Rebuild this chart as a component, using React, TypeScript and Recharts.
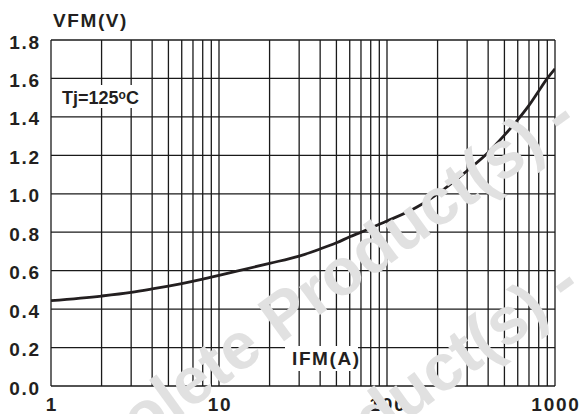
import React from "react";
import { LineChart, Line, XAxis, YAxis, ReferenceLine } from "recharts";

// Forward characteristic, Tj = 125 °C
const currentA = [1, 2, 3, 4, 5, 6, 8, 10, 20, 30, 40, 50, 60, 70, 80, 100, 150, 200, 300, 400, 500, 600, 700, 800, 900, 1000];
const voltageV = [0.444, 0.468, 0.487, 0.505, 0.52, 0.533, 0.556, 0.576, 0.638, 0.676, 0.713, 0.745, 0.776, 0.8, 0.822, 0.858, 0.93, 1.0, 1.12, 1.215, 1.305, 1.385, 1.46, 1.535, 1.6, 1.65];

const xTicks = [1, 10, 100, 1000];
const yTicks = [0, 0.2, 0.4, 0.6, 0.8, 1.0, 1.2, 1.4, 1.6, 1.8];
const decades = [1, 10, 100];
const multipliers = [1, 2, 3, 4, 5, 6, 7, 8, 9];

const xGrid = [...decades.flatMap((d) => multipliers.map((m) => d * m)), 1000];

const data = currentA.map((i, k) => ({ i, v: voltageV[k] }));

const W = 582;
const H = 414;
const FONT = "'Liberation Sans', Arial, Helvetica, sans-serif";
const INK = "#231f20";
const GRID = "#1a1a1a";

const YTick = ({ x, y, payload }: any) => (
  <text x={x + 1} y={y + 8.5} textAnchor="end" fontFamily={FONT} fontWeight="bold" fontSize={19} letterSpacing={1.8} fill={INK}>
    {Number(payload.value).toFixed(1)}
  </text>
);

const XTick = ({ x, y, payload }: any) => (
  <text x={x + 1} y={y + 25} textAnchor="middle" fontFamily={FONT} fontWeight="bold" fontSize={19} letterSpacing={1.8} fill={INK}>
    {payload.value}
  </text>
);

export default function App() {
  return (
    <div style={{ position: "absolute", left: 0, top: 0, width: W, height: H, background: "#fff", overflow: "hidden" }}>
      <LineChart width={W} height={H} data={data} margin={{ top: 40, right: 27, bottom: 0, left: 10 }}>
        <XAxis
          dataKey="i"
          type="number"
          scale="log"
          domain={[1, 1000]}
          ticks={xTicks}
          allowDataOverflow
          axisLine={false}
          tickLine={false}
          tickSize={0}
          tickMargin={0}
          height={28}
          tick={<XTick />}
          interval={0}
        />
        <YAxis
          type="number"
          domain={[0, 1.8]}
          ticks={yTicks}
          axisLine={false}
          tickLine={false}
          tickSize={0}
          tickMargin={11}
          width={41}
          tick={<YTick />}
          interval={0}
        />
        {xGrid.map((g) => (
          <ReferenceLine key={`x${g}`} x={g} stroke={GRID} strokeWidth={1.3} />
        ))}
        {yTicks.map((g) => (
          <ReferenceLine key={`y${g}`} y={g} stroke={GRID} strokeWidth={1.3} />
        ))}
        <Line
          dataKey="v"
          type="monotone"
          stroke={INK}
          strokeWidth={2.8}
          dot={false}
          activeDot={false}
          isAnimationActive={false}
        />
      </LineChart>
      <svg width={W} height={H} style={{ position: "absolute", left: 0, top: 0, pointerEvents: "none" }}>
        <text x={53} y={27} fontFamily={FONT} fontWeight="bold" fontSize={19} letterSpacing={1.6} fill={INK}>
          VFM(V)
        </text>
        <rect x={58} y={85} width={90} height={23} fill="#fff" />
        <text x={62} y={103.5} fontFamily={FONT} fontWeight="bold" fontSize={18} fill={INK}>
          Tj=125
          <tspan fontSize={12} dy={-5}>o</tspan>
          <tspan dy={5}>C</tspan>
        </text>
        <rect x={285} y={346} width={73} height={25} fill="#fff" />
        <text x={292} y={365} fontFamily={FONT} fontWeight="bold" fontSize={19} letterSpacing={1.6} fill={INK}>
          IFM(A)
        </text>
        <g fill="#e1e1e1" fontFamily={FONT} fontWeight="bold" fontSize={66}>
          <text x={580} y={126} textAnchor="end" transform="rotate(-36 580 126)">
            Obsolete Product(s) -
          </text>
          <text x={584} y={292} textAnchor="end" transform="rotate(-36 584 292)">
            Obsolete Product(s) -
          </text>
        </g>
      </svg>
    </div>
  );
}
